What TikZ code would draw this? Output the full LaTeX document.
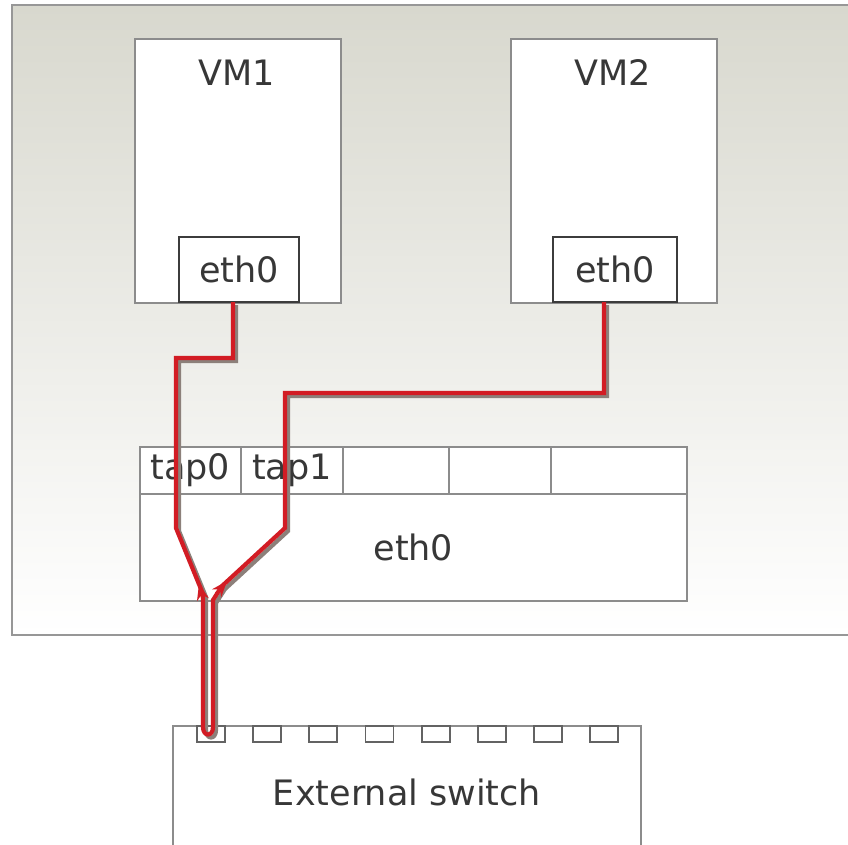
\documentclass[tikz,border=0pt]{standalone}
\usepackage{fontspec}
\setmainfont{DejaVu Sans}
\usetikzlibrary{arrows.meta}
\definecolor{hostgray}{RGB}{216,216,206}
\definecolor{boxline}{RGB}{140,140,140}
\definecolor{darkline}{RGB}{60,60,60}
\definecolor{txt}{RGB}{55,55,55}
\definecolor{wirered}{RGB}{210,28,36}
\definecolor{wireshade}{RGB}{140,128,122}
\tikzset{
  lbl/.style={text=txt, font=\fontsize{35}{40}\selectfont, inner sep=0pt},
  vmbox/.style={draw=boxline, line width=1.6pt, fill=white, inner sep=0pt, anchor=north west},
  ifbox/.style={draw=darkline, line width=2.2pt, fill=white, inner sep=0pt, anchor=north west, text=txt, font=\fontsize{35}{40}\selectfont},
  cellbox/.style={draw=boxline, line width=1.8pt, fill=white, inner sep=0pt, anchor=north west, text=txt, font=\fontsize{35}{40}\selectfont},
  portbox/.style={draw=darkline!80, line width=1.8pt, fill=white, inner sep=0pt, anchor=north west, minimum width=28pt, minimum height=16pt},
  wire/.style={draw=wirered, line width=4.2pt, line join=miter},
  wireshadow/.style={draw=wireshade, line width=4.2pt, line join=miter},
  tipwire/.style={draw=wirered, line width=3pt, -{Stealth[length=16pt,width=12pt]}}
}
\begin{document}
\begin{tikzpicture}[x=1pt,y=-1pt]
\useasboundingbox (0,0) rectangle (848,844);
\clip (0,0) rectangle (848,844);
\fill[white] (0,0) rectangle (848,844);
% host
\shade[top color=hostgray, bottom color=white] (12,5) rectangle (870,635);
\draw[boxline!90, line width=1.8pt] (12,5) rectangle (870,635);
% VMs
\node[vmbox, minimum width=206pt, minimum height=264pt] (vm1) at (134,38) {};
\node[lbl] (vm1l) at (237,73) {VM1};
\node[ifbox, minimum width=120pt, minimum height=65pt] (vm1eth) at (178,236) {eth0};
\node[vmbox, minimum width=206pt, minimum height=264pt] (vm2) at (510,38) {};
\node[lbl] (vm2l) at (613,73) {VM2};
\node[ifbox, minimum width=124pt, minimum height=65pt] (vm2eth) at (552,236) {eth0};
% host eth0 with taps
\node[cellbox, minimum width=547pt, minimum height=107pt] (heth) at (139,493) {eth0};
\node[cellbox, minimum width=101pt, minimum height=47pt] (tap0) at (139,446) {tap0};
\node[cellbox, minimum width=102pt, minimum height=47pt] (tap1) at (240,446) {tap1};
\node[cellbox, minimum width=106pt, minimum height=47pt] (tap2) at (342,446) {};
\node[cellbox, minimum width=102pt, minimum height=47pt] (tap3) at (448,446) {};
\node[cellbox, minimum width=136pt, minimum height=47pt] (tap4) at (550,446) {};
% external switch
\node[cellbox, minimum width=468pt, minimum height=140pt] (sw) at (172,725) {};
\node[lbl] (swl) at (407,792) {External switch};
\foreach \i in {0,...,7} {
  \node[portbox] (p\i) at ({196+56.2*\i},725) {};
}
% wire coordinates
\coordinate (a0) at (233,302);
\coordinate (a1) at (233,358);
\coordinate (a2) at (176,358);
\coordinate (a3) at (176,528);
\coordinate (a4) at (203,594);
\coordinate (a5) at (203,727);
\coordinate (b5) at (213,727);
\coordinate (b4) at (213,600);
\coordinate (b3) at (222,586);
\coordinate (b2) at (285,528);
\coordinate (b1) at (285,393);
\coordinate (c1) at (604,393);
\coordinate (c0) at (604,302);
% shadow
\begin{scope}[transform canvas={xshift=3pt,yshift=-3pt}]
\draw[wireshadow] (a0) -- (a1) -- (a2) -- (a3) -- (a4) -- (a5)
  .. controls (203,737) and (213,737) .. (b5) -- (b4) -- (b3) -- (b2) -- (b1) -- (c1) -- (c0);
\end{scope}
% red wire
\draw[wire] (a0) -- (a1) -- (a2) -- (a3) -- (a4) -- (a5)
  .. controls (203,737) and (213,737) .. (b5) -- (b4) -- (b3) -- (b2) -- (b1) -- (c1) -- (c0);
% arrow tips
\coordinate (t1s) at (203,600);
\coordinate (t1e) at (199,584);
\coordinate (t2s) at (216,594);
\coordinate (t2e) at (227,581);
\draw[tipwire] (t1s) -- (t1e);
\draw[tipwire] (t2s) -- (t2e);
\end{tikzpicture}
\end{document}
